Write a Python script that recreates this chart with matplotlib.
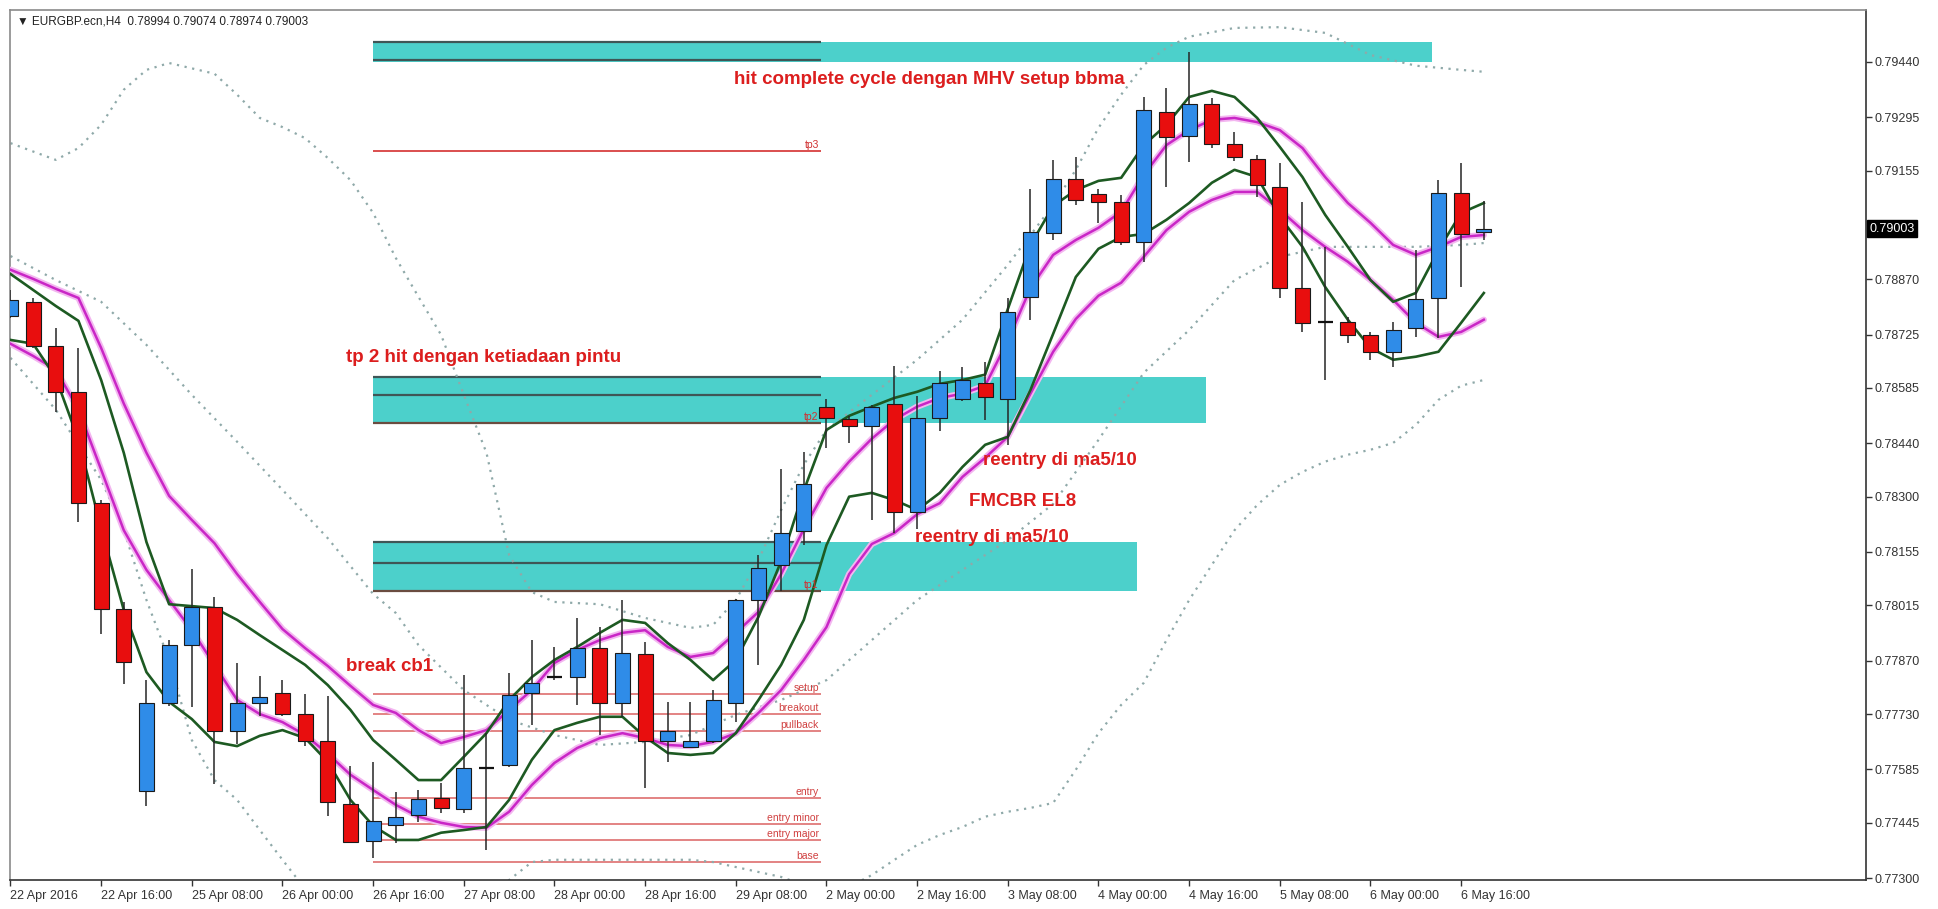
import matplotlib
matplotlib.use('Agg')
import matplotlib.pyplot as plt
import numpy as np
from matplotlib.patches import Rectangle

plt.rcParams['font.family'] = ['Liberation Sans', 'DejaVu Sans']

# EURGBP.ecn H4, 22 Apr 2016 00:00 .. 6 May 2016 20:00
opens = [0.78774, 0.78811, 0.78695, 0.78575, 0.78284, 0.78006, 0.77528, 0.77759, 0.77911, 0.78011,
         0.77686, 0.77759, 0.77785, 0.77730, 0.77659, 0.77494, 0.77397, 0.77439, 0.77465, 0.77510,
         0.77481, 0.77589, 0.77596, 0.77785, 0.77827, 0.77827, 0.77903, 0.77759, 0.77888, 0.77659,
         0.77644, 0.77659, 0.77759, 0.78029, 0.78121, 0.78210, 0.78535, 0.78504, 0.78485, 0.78543,
         0.78260, 0.78506, 0.78556, 0.78598, 0.78556, 0.78824, 0.78992, 0.79133, 0.79094, 0.79073,
         0.78968, 0.79309, 0.79246, 0.79330, 0.79225, 0.79186, 0.79112, 0.78847, 0.78758, 0.78758,
         0.78724, 0.78680, 0.78742, 0.78821, 0.79096, 0.78994]
highs = [0.78842, 0.78821, 0.78742, 0.78690, 0.78291, 0.78024, 0.77819, 0.77924, 0.78110, 0.78037,
         0.77864, 0.77830, 0.77819, 0.77783, 0.77777, 0.77594, 0.77604, 0.77526, 0.77531, 0.77549,
         0.77832, 0.77680, 0.77838, 0.77924, 0.77906, 0.77982, 0.77958, 0.78029, 0.77919, 0.77762,
         0.77762, 0.77793, 0.78032, 0.78147, 0.78373, 0.78417, 0.78556, 0.78512, 0.78540, 0.78643,
         0.78564, 0.78630, 0.78640, 0.78653, 0.78821, 0.79107, 0.79183, 0.79191, 0.79107, 0.79091,
         0.79348, 0.79372, 0.79466, 0.79346, 0.79256, 0.79196, 0.79175, 0.79073, 0.78955, 0.78771,
         0.78732, 0.78758, 0.78947, 0.79131, 0.79175, 0.79074]
lows = [0.78769, 0.78690, 0.78522, 0.78234, 0.77940, 0.77809, 0.77489, 0.77751, 0.77748, 0.77547,
        0.77651, 0.77725, 0.77725, 0.77646, 0.77463, 0.77392, 0.77353, 0.77392, 0.77447, 0.77471,
        0.77471, 0.77374, 0.77591, 0.77701, 0.77819, 0.77754, 0.77675, 0.77722, 0.77536, 0.77604,
        0.77641, 0.77654, 0.77709, 0.77859, 0.78053, 0.78173, 0.78428, 0.78441, 0.78239, 0.78205,
        0.78215, 0.78472, 0.78551, 0.78501, 0.78436, 0.78763, 0.78973, 0.79065, 0.79018, 0.78960,
        0.78916, 0.79112, 0.79178, 0.79214, 0.79180, 0.79086, 0.78821, 0.78732, 0.78606, 0.78703,
        0.78659, 0.78640, 0.78719, 0.78716, 0.78850, 0.78974]
closes = [0.78816, 0.78695, 0.78575, 0.78284, 0.78006, 0.77867, 0.77759, 0.77911, 0.78011, 0.77686,
          0.77759, 0.77775, 0.77730, 0.77659, 0.77499, 0.77394, 0.77450, 0.77460, 0.77507, 0.77484,
          0.77589, 0.77589, 0.77780, 0.77811, 0.77827, 0.77903, 0.77759, 0.77890, 0.77659, 0.77686,
          0.77659, 0.77767, 0.78029, 0.78113, 0.78205, 0.78333, 0.78506, 0.78485, 0.78535, 0.78260,
          0.78506, 0.78598, 0.78606, 0.78561, 0.78784, 0.78994, 0.79133, 0.79078, 0.79073, 0.78968,
          0.79314, 0.79243, 0.79330, 0.79225, 0.79191, 0.79117, 0.78847, 0.78756, 0.78758, 0.78724,
          0.78680, 0.78737, 0.78819, 0.79096, 0.78989, 0.79003]

# moving averages (magenta = wide pair, green = tight pair)
ma_mag_hi = [0.78895, 0.78871, 0.78845, 0.78821, 0.78690, 0.78544, 0.78415, 0.78302, 0.78239, 0.78178,
             0.78097, 0.78024, 0.77953, 0.77903, 0.77856, 0.77804, 0.77754, 0.77733, 0.77688, 0.77654,
             0.77670, 0.77688, 0.77741, 0.77793, 0.77864, 0.77898, 0.77924, 0.77943, 0.77950, 0.77906,
             0.77880, 0.77890, 0.77943, 0.77998, 0.78097, 0.78215, 0.78323, 0.78392, 0.78452, 0.78502,
             0.78536, 0.78559, 0.78570, 0.78591, 0.78709, 0.78847, 0.78934, 0.78973, 0.79005, 0.79047,
             0.79144, 0.79222, 0.79261, 0.79288, 0.79293, 0.79282, 0.79261, 0.79214, 0.79138, 0.79070,
             0.79018, 0.78960, 0.78934, 0.78955, 0.78981, 0.78986]
ma_mag_lo = [0.78701, 0.78669, 0.78633, 0.78528, 0.78371, 0.78212, 0.78108, 0.78029, 0.77950, 0.77859,
             0.77767, 0.77730, 0.77709, 0.77675, 0.77626, 0.77571, 0.77531, 0.77492, 0.77461, 0.77445,
             0.77434, 0.77432, 0.77474, 0.77544, 0.77602, 0.77641, 0.77667, 0.77680, 0.77667, 0.77649,
             0.77646, 0.77657, 0.77680, 0.77733, 0.77793, 0.77872, 0.77958, 0.78097, 0.78176, 0.78205,
             0.78254, 0.78283, 0.78352, 0.78402, 0.78457, 0.78570, 0.78680, 0.78766, 0.78827, 0.78861,
             0.78929, 0.78999, 0.79047, 0.79078, 0.79099, 0.79099, 0.79052, 0.78999, 0.78955, 0.78916,
             0.78868, 0.78816, 0.78756, 0.78719, 0.78732, 0.78764]
ma_grn_hi = [0.78884, 0.78842, 0.78800, 0.78761, 0.78606, 0.78415, 0.78181, 0.78018, 0.78013, 0.78008,
             0.77977, 0.77937, 0.77898, 0.77859, 0.77806, 0.77741, 0.77662, 0.77610, 0.77557, 0.77557,
             0.77618, 0.77680, 0.77767, 0.77827, 0.77872, 0.77906, 0.77943, 0.77977, 0.77969, 0.77916,
             0.77872, 0.77819, 0.77872, 0.77985, 0.78131, 0.78316, 0.78475, 0.78512, 0.78536, 0.78559,
             0.78575, 0.78596, 0.78606, 0.78620, 0.78792, 0.78960, 0.79062, 0.79104, 0.79128, 0.79136,
             0.79222, 0.79275, 0.79348, 0.79364, 0.79348, 0.79293, 0.79217, 0.79138, 0.79039, 0.78955,
             0.78868, 0.78811, 0.78834, 0.78947, 0.79044, 0.79070]
ma_grn_lo = [0.78711, 0.78701, 0.78612, 0.78449, 0.78218, 0.78003, 0.77840, 0.77762, 0.77717, 0.77657,
             0.77646, 0.77673, 0.77688, 0.77667, 0.77605, 0.77505, 0.77437, 0.77400, 0.77400, 0.77419,
             0.77426, 0.77434, 0.77505, 0.77610, 0.77688, 0.77707, 0.77723, 0.77723, 0.77670, 0.77628,
             0.77623, 0.77628, 0.77680, 0.77767, 0.77859, 0.77977, 0.78173, 0.78300, 0.78310, 0.78291,
             0.78265, 0.78310, 0.78378, 0.78436, 0.78457, 0.78580, 0.78727, 0.78876, 0.78950, 0.78981,
             0.78989, 0.79026, 0.79070, 0.79123, 0.79157, 0.79138, 0.79034, 0.78955, 0.78850, 0.78764,
             0.78690, 0.78659, 0.78667, 0.78680, 0.78756, 0.78834]

# Bollinger bands (dotted), read at selected bars
bb_up_bar = [0, 2, 3, 4, 5, 6, 7, 9, 10, 11, 12, 13, 14, 15, 16, 17, 18, 19, 20, 21, 22, 23, 24, 26, 28,
             30, 31, 32, 33, 34, 35, 36, 38, 40, 42, 44, 45, 46, 47, 48, 49, 50, 51, 52, 54, 56, 58,
             60, 62, 64, 65]
bb_up = [0.79227, 0.79183, 0.79214, 0.79275, 0.79367, 0.79419, 0.79437, 0.79409, 0.79354, 0.79293,
         0.79269, 0.79240, 0.79188, 0.79130, 0.79044, 0.78926, 0.78824, 0.78724, 0.78567, 0.78415,
         0.78147, 0.78050, 0.78024, 0.78018, 0.77982, 0.77956, 0.77964, 0.78029, 0.78134, 0.78265,
         0.78384, 0.78475, 0.78567, 0.78659, 0.78764, 0.78908, 0.78986, 0.79065, 0.79157, 0.79267,
         0.79354, 0.79432, 0.79477, 0.79506, 0.79529, 0.79531, 0.79516, 0.79458, 0.79430, 0.79419,
         0.79414]
bb_mid_bar = [0, 2, 4, 6, 8, 10, 12, 14, 16, 17, 18, 20, 22, 24, 26, 28, 30, 32, 34, 36, 38, 40, 42,
              44, 46, 48, 50, 52, 54, 56, 58, 60, 62, 64, 65]
bb_mid = [0.78931, 0.78868, 0.78811, 0.78698, 0.78567, 0.78444, 0.78318, 0.78191, 0.78045, 0.77995,
          0.77911, 0.77793, 0.77715, 0.77675, 0.77649, 0.77657, 0.77675, 0.77728, 0.77767, 0.77819,
          0.77924, 0.78029, 0.78108, 0.78186, 0.78281, 0.78449, 0.78625, 0.78737, 0.78868, 0.78929,
          0.78955, 0.78955, 0.78955, 0.78960, 0.78965]
bb_lo_bar = [0, 2, 4, 5, 6, 7, 8, 9, 10, 11, 12, 14, 16, 18, 20, 21, 22, 23, 24, 26, 28, 30, 31, 32,
             33, 34, 35, 36, 37, 38, 39, 40, 41, 42, 43, 44, 45, 46, 47, 48, 49, 50, 51, 52, 53, 54,
             55, 56, 57, 58, 59, 60, 61, 62, 63, 64, 65]
bb_lo = [0.78664, 0.78528, 0.78344, 0.78212, 0.78029, 0.77872, 0.77662, 0.77557, 0.77505, 0.77426,
         0.77348, 0.77195, 0.77045, 0.76998, 0.77019, 0.77137, 0.77295, 0.77342, 0.77348, 0.77348,
         0.77348, 0.77348, 0.77342, 0.77329, 0.77316, 0.77303, 0.77282, 0.77269, 0.77277, 0.77308,
         0.77348, 0.77387, 0.77413, 0.77434, 0.77461, 0.77474, 0.77484, 0.77497, 0.77584, 0.77680,
         0.77754, 0.77812, 0.77924, 0.78029, 0.78121, 0.78212, 0.78278, 0.78331, 0.78365, 0.78392,
         0.78410, 0.78423, 0.78441, 0.78488, 0.78554, 0.78591, 0.78606]

# drawn objects: zones (low, high) and level lines
zone_lo = [0.79440, 0.78493, 0.78053]
zone_hi = [0.79492, 0.78614, 0.78181]
zone_end = [62.7, 52.75, 49.7]
zone_lines = [[0.79492, 0.79445], [0.78614, 0.78567, 0.78493], [0.78181, 0.78126, 0.78053]]
tp_names = ['tp3', 'tp2', 'tp1']
tp_prices = [0.79207, 0.78493, 0.78053]
level_names = ['setup', 'breakout', 'pullback', 'entry', 'entry minor', 'entry major', 'base']
level_prices = [0.77783, 0.77730, 0.77686, 0.77510, 0.77442, 0.77400, 0.77342]

time_labels = ['22 Apr 2016', '22 Apr 16:00', '25 Apr 08:00', '26 Apr 00:00', '26 Apr 16:00',
               '27 Apr 08:00', '28 Apr 00:00', '28 Apr 16:00', '29 Apr 08:00', '2 May 00:00',
               '2 May 16:00', '3 May 08:00', '4 May 00:00', '4 May 16:00', '5 May 08:00',
               '6 May 00:00', '6 May 16:00']
price_ticks = [0.79440, 0.79295, 0.79155, 0.78870, 0.78725, 0.78585, 0.78440, 0.78300, 0.78155,
               0.78015, 0.77870, 0.77730, 0.77585, 0.77445, 0.77300]
last_price = 0.79003

notes = [('hit complete cycle dengan MHV setup bbma', 31.9, 0.79393),
         ('tp 2 hit dengan ketiadaan pintu', 14.8, 0.78665),
         ('break cb1', 14.8, 0.77854),
         ('reentry di ma5/10', 42.9, 0.78395),
         ('FMCBR EL8', 42.3, 0.78288),
         ('reentry di ma5/10', 39.9, 0.78193)]

fig = plt.figure(figsize=(19.38, 9.09), dpi=100)
ax = fig.add_axes([10 / 1938, 29 / 909, 1856 / 1938, 870 / 909])

line_start, line_end = 16.0, 35.76

# zones
for lo, hi, end, lines in zip(zone_lo, zone_hi, zone_end, zone_lines):
    ax.add_patch(Rectangle((line_start, lo), end - line_start, hi - lo,
                           facecolor='#4cd0cb', edgecolor='none', zorder=1))
    for k, lv in enumerate(lines):
        col = '#6a4c40' if (k == len(lines) - 1 and len(lines) == 3) else '#3f5656'
        ax.hlines(lv, line_start, line_end, color=col, lw=1.6, zorder=2)

# tp labels / tp3 line
ax.hlines(tp_prices[0], line_start, line_end, color='#d84040', lw=1.3, zorder=2)
for name, pr in zip(tp_names, tp_prices):
    ax.text(line_end - 0.1, pr + 0.00003, name, color='#d03030', fontsize=7.5,
            ha='right', va='bottom', zorder=6)

# setup levels
for name, pr in zip(level_names, level_prices):
    ax.hlines(pr, line_start, line_end, color='#e07a7a', lw=1.3, zorder=2)
    ax.text(line_end - 0.1, pr + 0.00003, name, color='#d04040', fontsize=7.5,
            ha='right', va='bottom', zorder=6)

# Bollinger bands
dot = (0, (1, 2.5))
ax.plot(bb_up_bar, bb_up, color='#8fa9a9', lw=1.6, ls=dot, zorder=2)
ax.plot(bb_mid_bar, bb_mid, color='#8fa9a9', lw=1.6, ls=dot, zorder=2)
ax.plot(bb_lo_bar, bb_lo, color='#8fa9a9', lw=1.6, ls=dot, zorder=2)

x = np.arange(len(opens))
# moving averages
for series in (ma_mag_hi, ma_mag_lo):
    ax.plot(x, series, color='#f3b6f0', lw=4.5, zorder=3, solid_capstyle='round')
    ax.plot(x, series, color='#c926c6', lw=1.8, zorder=3)
for series in (ma_grn_hi, ma_grn_lo):
    ax.plot(x, series, color='#1d5a22', lw=1.9, zorder=3)

# candles
o = np.array(opens)
h = np.array(highs)
l = np.array(lows)
c = np.array(closes)
up = c > o
dn = c < o
fl = c == o
ax.vlines(x, l, h, color='#262626', lw=1.1, zorder=4)
ax.bar(x[up], c[up] - o[up], bottom=o[up], width=0.66, color='#2f8ce8',
       edgecolor='#1a1a1a', lw=0.8, zorder=5)
ax.bar(x[dn], o[dn] - c[dn], bottom=c[dn], width=0.66, color='#e80e0e',
       edgecolor='#1a1a1a', lw=0.8, zorder=5)
ax.hlines(c[fl], x[fl] - 0.33, x[fl] + 0.33, color='#111111', lw=1.6, zorder=5)

# annotations
for txt, tx, ty in notes:
    ax.text(tx, ty, txt, color='#dc1e1e', fontsize=13.5, fontweight='bold',
            ha='left', va='center', zorder=7)

ax.text(0.004, 0.987, '\u25bc EURGBP.ecn,H4  0.78994 0.79074 0.78974 0.79003',
        transform=ax.transAxes, fontsize=8.5, color='#222222', ha='left', va='center',
        family=['Liberation Sans', 'DejaVu Sans'])

# axes
ax.set_xlim(-0.02, 81.86)
ax.set_ylim(0.77295, 0.79576)
ax.set_xticks(np.arange(0, 4 * len(time_labels), 4))
ax.set_xticklabels(time_labels)
for t in ax.get_xticklabels():
    t.set_horizontalalignment('left')
ax.yaxis.tick_right()
ax.set_yticks(price_ticks)
ax.set_yticklabels(['%.5f' % p for p in price_ticks])
ax.tick_params(axis='both', direction='out', length=4, width=1, colors='#333333',
               labelsize=9, pad=2)
ax.tick_params(axis='x', pad=3)

ax.text(1.002, last_price, '%.5f' % last_price, transform=ax.get_yaxis_transform(),
        color='white', fontsize=9, ha='left', va='center', zorder=8,
        bbox=dict(boxstyle='square,pad=0.2', facecolor='black', edgecolor='black'))

for side in ('left', 'top'):
    ax.spines[side].set_color('#8a8a8a')
    ax.spines[side].set_linewidth(1.2)
for side in ('right', 'bottom'):
    ax.spines[side].set_color('#333333')
    ax.spines[side].set_linewidth(1.2)

fig.savefig('out.png', dpi=100, facecolor='white')
